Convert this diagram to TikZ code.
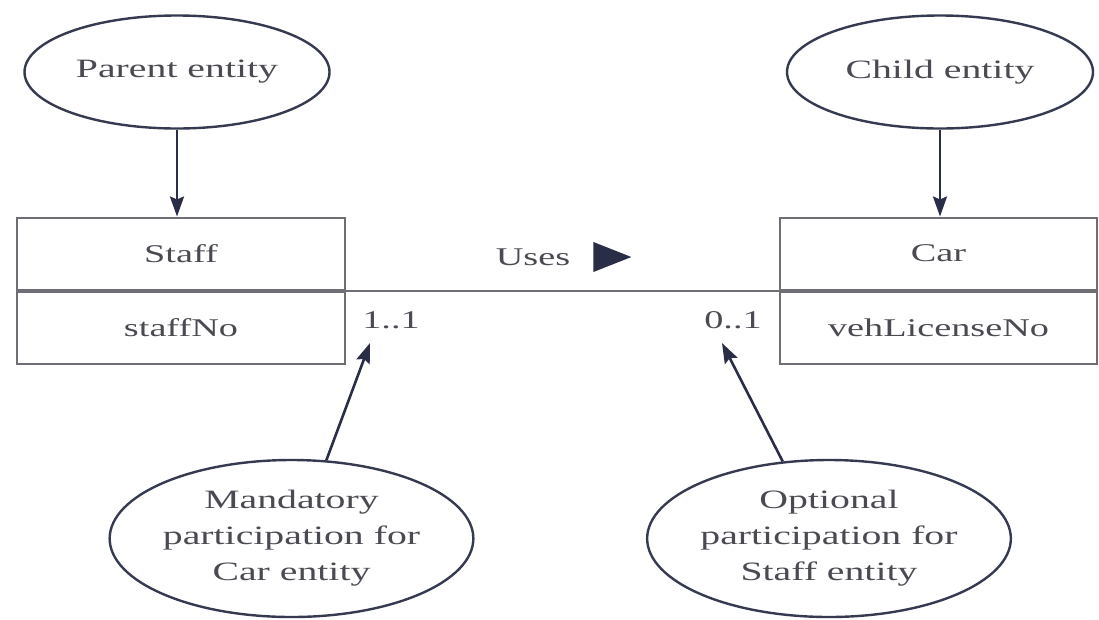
\documentclass[tikz,border=0pt]{standalone}
\usepackage{fontspec}
\setmainfont{Liberation Serif}[FakeStretch=1.5]
\usetikzlibrary{arrows.meta,shapes.geometric}

\definecolor{textink}{HTML}{4A4A52}
\definecolor{outline}{HTML}{363A50}
\definecolor{boxline}{HTML}{6E6E74}
\definecolor{arrowink}{HTML}{2A2D46}

\tikzset{
  note/.style={ellipse, draw=outline, line width=2.4pt, inner sep=0pt,
    text=textink, align=center, font=\fontsize{26.5}{36}\selectfont},
  cell/.style={rectangle, draw=boxline, line width=2pt, inner sep=0pt,
    minimum height=72pt, text=textink, font=\fontsize{25.5}{30}\selectfont},
  label/.style={inner sep=0pt, text=textink, font=\fontsize{25.5}{30}\selectfont},
  pointer/.style={draw=arrowink, line width=2.6pt,
    -{Stealth[length=20pt,width=14pt,inset=3pt]}},
  assoc/.style={draw=boxline, line width=2pt}
}

\begin{document}
\begin{tikzpicture}[x=1pt,y=-1pt]
\useasboundingbox (0,0) rectangle (1099,619);

% entity boxes: name row above key row
\node[cell, minimum width=328pt] (staffhead) at (181,253.5) {Staff};
\node[cell, minimum width=328pt, anchor=north] (staffkey) at (staffhead.south) {staffNo};
\node[cell, minimum width=317pt] (carhead) at (938.5,253.5) {Car};
\node[cell, minimum width=317pt, anchor=north] (carkey) at (carhead.south) {vehLicenseNo};

% relationship line, name and direction
\draw[assoc] (staffhead.south east) -- (carhead.south west);
\node[label] (uses) at (533,257) {Uses};
\fill[arrowink, shift={(uses.east)}] (23,-15) -- (61,0) -- (23,15) -- cycle;

% multiplicities
\node[label] (one) at (391,320) {1..1};
\node[label] (zero) at (733,320) {0..1};
\coordinate (onetip) at (370,343);
\coordinate (zerotip) at (722,343);

% explanatory notes
\node[note, minimum width=305pt, minimum height=113pt] (parent) at (177,72) {Parent entity};
\node[note, minimum width=306pt, minimum height=113pt] (child) at (940,72) {Child entity};
\node[note, minimum width=357pt, minimum height=157pt] (mand) at (291.5,538.5)
  {Mandatory\\participation for\\Car entity};
\node[note, minimum width=358pt, minimum height=157pt] (opt) at (829,538.5)
  {Optional\\participation for\\Staff entity};

% pointers
\draw[pointer] (parent.south) -- (parent.south |- staffhead.north);
\draw[pointer] (child.south) -- (child.south |- carhead.north);
\draw[pointer] (mand.66.5) -- (onetip);
\draw[pointer] (opt.121) -- (zerotip);
\end{tikzpicture}
\end{document}
